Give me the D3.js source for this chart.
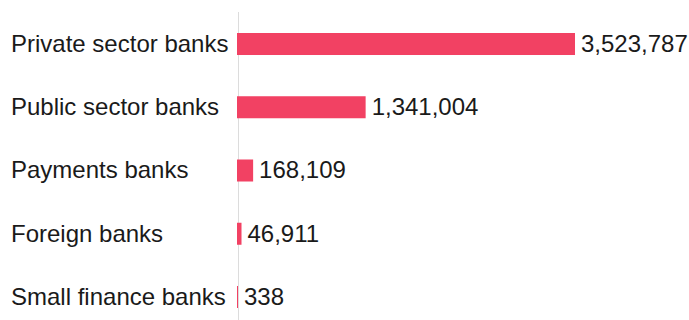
<!DOCTYPE html>
<html>
<head>
<meta charset="utf-8">
<script src="https://cdn.jsdelivr.net/npm/d3@7"></script>
<style>
  html, body { margin: 0; padding: 0; background: #fff; }
  svg { display: block; }
  text { font-family: "Liberation Sans", Arial, Helvetica, sans-serif; font-size: 24px; fill: #1a1a1a; }
</style>
</head>
<body>
<svg id="chart" width="689" height="320"></svg>
<script>
const categories = ["Private sector banks", "Public sector banks", "Payments banks", "Foreign banks", "Small finance banks"];
const values = [3523787, 1341004, 168109, 46911, 338];

const svg = d3.select("#chart");
const W = 689, H = 320;
const x0 = 237, x1 = 575;

const x = d3.scaleLinear().domain([0, d3.max(values)]).range([x0, x1]);
const y = d3.scaleBand().domain(categories).range([12, 329]).paddingInner(0.652).paddingOuter(0.332);

const data = categories.map((c, i) => ({ c, v: values[i] }));
const fmt = d3.format(",");

svg.append("line")
  .attr("x1", x0 + 1.5).attr("x2", x0 + 1.5)
  .attr("y1", 12).attr("y2", H)
  .attr("stroke", "#dcdcdc").attr("stroke-width", 1);

svg.selectAll("rect.bar").data(data).enter().append("rect")
  .attr("class", "bar")
  .attr("x", x(0))
  .attr("y", d => y(d.c))
  .attr("width", d => Math.max(1, x(d.v) - x(0)))
  .attr("height", y.bandwidth())
  .attr("fill", "#f24163");

svg.selectAll("text.cat").data(data).enter().append("text")
  .attr("class", "cat")
  .attr("x", 11)
  .attr("y", d => y(d.c) + y.bandwidth() / 2)
  .attr("dy", "0.33em")
  .text(d => d.c);

svg.selectAll("text.val").data(data).enter().append("text")
  .attr("class", "val")
  .attr("x", d => x(0) + Math.max(1, x(d.v) - x(0)) + 6)
  .attr("y", d => y(d.c) + y.bandwidth() / 2)
  .attr("dy", "0.33em")
  .text(d => fmt(d.v));
</script>
</body>
</html>
